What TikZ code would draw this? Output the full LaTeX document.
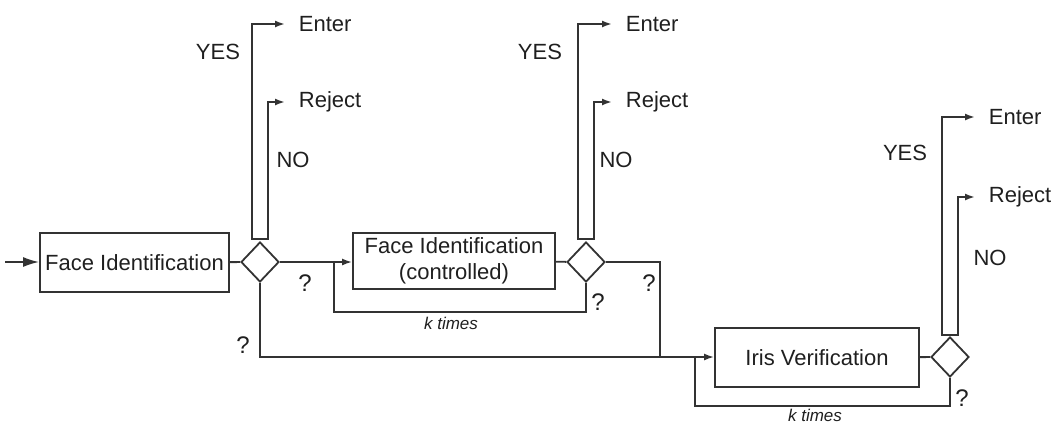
\documentclass[tikz,border=0pt]{standalone}
\usepackage{fontspec}
\setmainfont{Liberation Sans}
\usetikzlibrary{positioning,arrows.meta,shapes.geometric}

\begin{document}
\begin{tikzpicture}[
  x=0.5pt, y=-0.5pt,
  line width=0.9pt, color=black!80, text=black!88,
  font=\fontsize{11}{13}\selectfont,
  stage/.style={draw, rectangle, inner sep=0pt, minimum height=29.5pt, align=center},
  dec/.style={draw, diamond, inner sep=0pt, minimum width=19pt, minimum height=20pt},
  outcome/.style={anchor=west, inner xsep=6.5pt, inner ysep=0pt},
  ktimes/.style={font=\fontsize{8.5}{10}\selectfont\itshape, inner sep=1pt},
  unsure/.style={font=\fontsize{12}{14}\selectfont},
  arr/.style={-{Latex[length=5pt,width=3.5pt]}},
  inarr/.style={-{Latex[length=8pt,width=5pt]}},
  bararr/.style={{Latex[length=5pt,width=3.5pt]}-{Latex[length=5pt,width=3.5pt]}}
]
\useasboundingbox (0,0) rectangle (1059,424);

% Stages
\node[stage, minimum width=94.5pt] (face) at (134.5,262.5) {Face Identification};
\node[stage, minimum width=101pt, minimum height=28pt] (facec) at (454,261) {Face Identification\\(controlled)};
\node[stage, minimum width=102pt] (iris) at (817,357.5) {Iris Verification};

% Decisions
\node[dec] (d1) at (260,262) {};
\node[dec] (d2) at (586,262) {};
\node[dec] (d3) at (950,357) {};

% Outcomes
\node[outcome] (enter1) at (285,24) {Enter};
\node[outcome] (reject1) at (285,102) {Reject};
\node[outcome] (enter2) at (612,24) {Enter};
\node[outcome] (reject2) at (612,102) {Reject};
\node[outcome] (enter3) at (975,117) {Enter};
\node[outcome] (reject3) at (975,197) {Reject};

% Input and stage links
\coordinate (start) at (5,262);
\draw[inarr] (start) -- (face.west |- start);
\draw (face) -- (d1);
\draw[arr] (d1.east) -- (facec.west |- d1.east);
\draw (facec) -- (d2);
\draw (iris) -- (d3);

% YES / NO bars
\coordinate (b1l) at ([xshift=-4pt,yshift=1pt]d1.north);
\coordinate (b1r) at ([xshift=4pt,yshift=1pt]d1.north);
\draw[bararr] (enter1.west) -| (b1l) -- (b1r) |- (reject1.west);
\coordinate (b2l) at ([xshift=-4pt,yshift=1pt]d2.north);
\coordinate (b2r) at ([xshift=4pt,yshift=1pt]d2.north);
\draw[bararr] (enter2.west) -| (b2l) -- (b2r) |- (reject2.west);
\coordinate (b3l) at ([xshift=-4pt,yshift=0.5pt]d3.north);
\coordinate (b3r) at ([xshift=4pt,yshift=0.5pt]d3.north);
\draw[bararr] (enter3.west) -| (b3l) -- (b3r) |- (reject3.west);

\node (yes1) at (218,52) {YES};
\node (no1) at (293,160) {NO};
\node (yes2) at (540,52) {YES};
\node (no2) at (616,160) {NO};
\node (yes3) at (905,153) {YES};
\node (no3) at (990,258) {NO};

% Retry loops
\coordinate (j1) at (334,262);
\coordinate (l2) at (334,312);
\draw (d2.south) |- (l2) -- (j1);
\node[ktimes] (k1) at (451,323) {k times};

\coordinate (j3) at (695,357);
\coordinate (l3) at (695,406);
\draw (d3.south) |- (l3) -- (j3);
\node[ktimes] (k2) at (815,415) {k times};

% Escalation to iris
\coordinate (j2) at (660,357);
\draw (d2.east) -| (j2);
\draw[arr] (d1.south) |- (iris.west |- j2);

% Uncertain outcomes
\node[unsure] (q1) at (305,283) {?};
\node[unsure] (q2) at (243,345) {?};
\node[unsure] (q3) at (598,302) {?};
\node[unsure] (q4) at (649,283) {?};
\node[unsure] (q5) at (962,398) {?};

\end{tikzpicture}
\end{document}
